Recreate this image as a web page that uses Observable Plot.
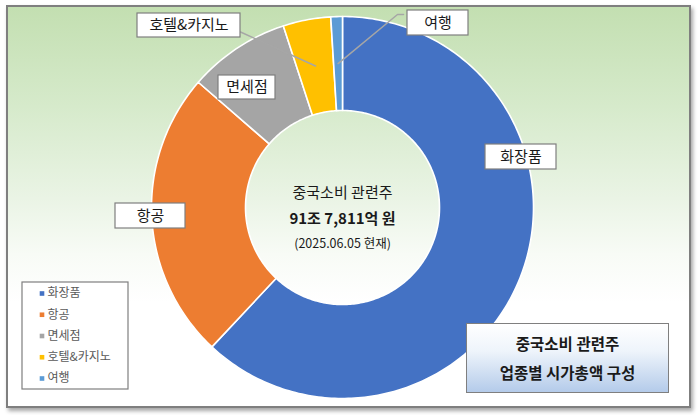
<!DOCTYPE html>
<html><head><meta charset="utf-8">
<script src="https://cdn.jsdelivr.net/npm/d3@7"></script>
<script src="https://cdn.jsdelivr.net/npm/@observablehq/plot@0.6"></script>
<style>
html,body{margin:0;padding:0;background:#fff;}
#wrap{position:relative;width:698px;height:415px;overflow:hidden;font-family:"Noto Sans CJK KR","Noto Sans",sans-serif;}
#frame{position:absolute;left:6px;top:5px;width:685px;height:403px;box-sizing:border-box;border:2px solid #7f7f7f;
  background:linear-gradient(to bottom,#c3dfb1 0%,#d6eacb 25%,#eaf4e5 48%,#f8fbf6 62%,#ffffff 74%,#ffffff 100%);
  box-shadow:2px 3px 4px rgba(0,0,0,0.35);}
#chart{position:absolute;left:0;top:0;}
#title{position:absolute;left:466px;top:323px;width:203px;height:70px;box-sizing:border-box;border:1px solid #7f7f7f;
  background:linear-gradient(to bottom,#ffffff 0%,#eef4fb 40%,#b4cbea 100%);
  display:flex;flex-direction:column;justify-content:center;align-items:center;
  font-size:15.5px;font-weight:bold;line-height:29px;color:#1a1a1a;}
</style></head>
<body>
<div id="wrap"><div id="frame"></div><div id="chart"></div><div id="title"></div></div>
<script>
// ---- data ----
const names = ["화장품", "항공", "면세점", "호텔&카지노", "여행"];
const values = [569000, 224000, 79000, 37000, 9000]; // 억원 (estimated)
const colors = ["#4472c4", "#ed7d31", "#a5a5a5", "#ffc000", "#5b9bd5"];
const centerLines = ["중국소비 관련주", "91조 7,811억 원", "(2025.06.05 현재)"];
const titleLines = ["중국소비 관련주", "업종별 시가총액 구성"];

// ---- layout (pixels) ----
const W = 698, H = 415;
const CX = 342, CY = 207, R_OUT = 191, R_IN = 97;
const labelLayout = {
  "화장품": [485, 144, 556, 169],
  "항공": [115, 203, 185, 228],
  "면세점": [218, 75, 275, 99],
  "호텔&카지노": [137, 13, 240, 37],
  "여행": [407, 10, 468, 35]
};
const leaderStarts = {
  "호텔&카지노": [[240, 31.5]],
  "여행": [[403, 14], [397, 14]]
};
const centerY = [193, 219, 243];
const legendBox = [22, 282, 128, 389];
const legendY0 = 293, legendStep = 21.25, legendMarkX = 41.5, legendTextX = 47;

const px = x => x - CX, py = y => CY - y;

// slices
const total = d3.sum(values);
let acc = 0;
const slices = names.map((name, i) => {
  const a0 = acc / total * 2 * Math.PI; acc += values[i];
  const a1 = acc / total * 2 * Math.PI;
  return {name, a0, a1};
});
const ringPts = slices.flatMap(s => {
  const n = Math.max(2, Math.ceil((s.a1 - s.a0) / (Math.PI / 180)));
  const pts = [];
  for (let k = 0; k <= n; k++) { const a = s.a0 + (s.a1 - s.a0) * k / n; pts.push({name: s.name, x: R_OUT * Math.sin(a), y: R_OUT * Math.cos(a)}); }
  for (let k = n; k >= 0; k--) { const a = s.a0 + (s.a1 - s.a0) * k / n; pts.push({name: s.name, x: R_IN * Math.sin(a), y: R_IN * Math.cos(a)}); }
  pts.push({...pts[0]});
  return pts;
});
const centroid = name => {
  const s = slices.find(d => d.name === name);
  const a = (s.a0 + s.a1) / 2, r = (R_IN + R_OUT) / 2;
  return {x: r * Math.sin(a), y: r * Math.cos(a)};
};
const leaderPts = Object.entries(leaderStarts).flatMap(([name, starts]) => {
  const c = centroid(name);
  return [...starts.map(([x, y]) => ({name, x: px(x), y: py(y)})), {name, ...c}];
});
const boxes = names.map(name => {
  const [x0, y0, x1, y1] = labelLayout[name];
  return {name, x1: px(x0), x2: px(x1), y1: py(y0), y2: py(y1), cx: px((x0 + x1) / 2), cy: py((y0 + y1) / 2)};
});

const font = '"Noto Sans CJK KR", "Noto Sans", sans-serif';
const chart = Plot.plot({
  width: W, height: H,
  marginLeft: 0, marginRight: 0, marginTop: 0, marginBottom: 0,
  x: {domain: [px(0), px(W)], axis: null},
  y: {domain: [py(H), py(0)], axis: null},
  color: {domain: names, range: colors},
  style: {background: "transparent", fontFamily: font, overflow: "visible"},
  marks: [
    Plot.line(ringPts, {x: "x", y: "y", z: "name", fill: "name", stroke: "white", strokeWidth: 1.6, strokeLinejoin: "round", curve: "linear"}),
    Plot.line(leaderPts, {x: "x", y: "y", z: "name", stroke: "#a6a6a6", strokeWidth: 1.5, curve: "linear"}),
    Plot.rect(boxes, {x1: "x1", x2: "x2", y1: "y1", y2: "y2", fill: "white", stroke: "#7f7f7f", strokeWidth: 1.2}),
    Plot.text(boxes, {x: "cx", y: "cy", text: "name", fontSize: 15, fill: "#1a1a1a", fontFamily: font}),
    Plot.text([centerLines[0]], {x: 0, y: py(centerY[0]), text: d => d, fontSize: 15, fill: "#1a1a1a", fontFamily: font}),
    Plot.text([centerLines[1]], {x: 0, y: py(centerY[1]), text: d => d, fontSize: 15, fontWeight: "bold", fill: "#1a1a1a", fontFamily: font}),
    Plot.text([centerLines[2]], {x: 0, y: py(centerY[2]), text: d => d, fontSize: 12.5, fill: "#1a1a1a", fontFamily: font}),
    Plot.rect([legendBox], {x1: d => px(d[0]), x2: d => px(d[2]), y1: d => py(d[1]), y2: d => py(d[3]), fill: "white", stroke: "#7f7f7f", strokeWidth: 1.2}),
    Plot.dot(names, {x: px(legendMarkX), y: (d, i) => py(legendY0 + i * legendStep), symbol: "square", r: 2.6, fill: d => d}),
    Plot.text(names, {x: px(legendTextX), y: (d, i) => py(legendY0 + i * legendStep), text: d => d, textAnchor: "start", fontSize: 12, fill: "#595959", fontFamily: font})
  ]
});
document.getElementById("chart").appendChild(chart);
document.getElementById("title").innerHTML = titleLines.map(t => `<div>${t}</div>`).join("");
</script>
</body></html>
